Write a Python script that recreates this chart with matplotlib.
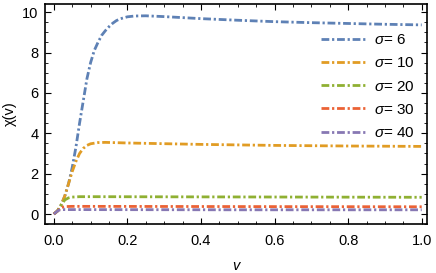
import numpy as np
import matplotlib.pyplot as plt
from matplotlib.ticker import MultipleLocator

# --------------------
# Curves
v_6 = [0.0, 0.01, 0.02, 0.03, 0.04, 0.05, 0.06, 0.07, 0.08, 0.09, 0.10, 0.11, 0.12,
       0.13, 0.14, 0.15, 0.16, 0.17, 0.18, 0.20, 0.22, 0.25, 0.30, 0.40, 0.50,
       0.60, 0.70, 0.80, 0.90, 1.00]
chi_6 = [0.0, 0.15, 0.45, 0.9, 1.5, 2.3, 3.3, 4.5, 5.6, 6.7, 7.5, 8.1, 8.5,
         8.85, 9.08, 9.28, 9.45, 9.58, 9.67, 9.77, 9.81, 9.82, 9.78, 9.68, 9.6,
         9.53, 9.48, 9.44, 9.40, 9.37]

v_10 = [0.0, 0.01, 0.02, 0.03, 0.04, 0.05, 0.06, 0.07, 0.08, 0.09, 0.10, 0.12,
        0.14, 0.20, 0.40, 0.60, 0.80, 1.00]
chi_10 = [0.0, 0.15, 0.45, 0.9, 1.5, 2.1, 2.6, 3.0, 3.25, 3.4, 3.48, 3.54,
          3.55, 3.52, 3.45, 3.40, 3.37, 3.35]

v_20 = [0.0, 0.01, 0.02, 0.03, 0.04, 0.05, 0.07, 0.10, 0.40, 0.70, 1.00]
chi_20 = [0.0, 0.15, 0.45, 0.7, 0.8, 0.84, 0.86, 0.86, 0.85, 0.84, 0.83]

v_30 = [0.0, 0.01, 0.02, 0.03, 0.05, 0.10, 0.50, 1.00]
chi_30 = [0.0, 0.15, 0.32, 0.37, 0.38, 0.38, 0.37, 0.36]

v_40 = [0.0, 0.01, 0.015, 0.02, 0.05, 0.50, 1.00]
chi_40 = [0.0, 0.15, 0.2, 0.22, 0.22, 0.21, 0.21]

sigmas = [6, 10, 20, 30, 40]
colors = ["#5E81B5", "#E19C24", "#8FB032", "#EB6235", "#8778B3"]

plt.rcParams["font.family"] = ["Liberation Sans", "DejaVu Sans"]
plt.rcParams["mathtext.fontset"] = "custom"
plt.rcParams["mathtext.it"] = "Liberation Sans:italic"
plt.rcParams["mathtext.rm"] = "Liberation Sans"

fig = plt.figure(figsize=(4.36, 2.73), dpi=100)
ax = fig.add_axes([0.104, 0.179, 0.875, 0.806])

series = [(v_6, chi_6), (v_10, chi_10), (v_20, chi_20), (v_30, chi_30), (v_40, chi_40)]
for (vv, cc), s, col in zip(series, sigmas, colors):
    ax.plot(vv, cc, color=col, lw=2.0, linestyle=(0, (2.8, 1.0, 0.8, 1.0)),
            label=r"$\sigma$= %d" % s)

ax.set_xlim(-0.023, 1.014)
ax.set_ylim(-0.5, 10.4)

ax.xaxis.set_major_locator(MultipleLocator(0.2))
ax.xaxis.set_minor_locator(MultipleLocator(0.05))
ax.yaxis.set_major_locator(MultipleLocator(2))
ax.yaxis.set_minor_locator(MultipleLocator(0.5))
ax.xaxis.set_major_formatter(plt.FuncFormatter(lambda x, p: "%.1f" % x))

ax.tick_params(which="both", direction="in", top=True, right=True,
               labelsize=10.5, pad=5)
ax.tick_params(axis="x", pad=7)
ax.tick_params(which="major", length=4, width=0.8)
ax.tick_params(which="minor", length=2, width=0.6)
for sp in ax.spines.values():
    sp.set_linewidth(1.2)

ax.set_xlabel("v", fontsize=10.5, style="italic", labelpad=8)
ax.set_ylabel("χ(v)", fontsize=10.5, labelpad=4)

ax.legend(loc="upper right", frameon=False, fontsize=11, handlelength=2.9,
          handletextpad=0.6, labelspacing=0.6, borderaxespad=0.0,
          bbox_to_anchor=(0.985, 0.895))

fig.savefig("out.png", dpi=100)
